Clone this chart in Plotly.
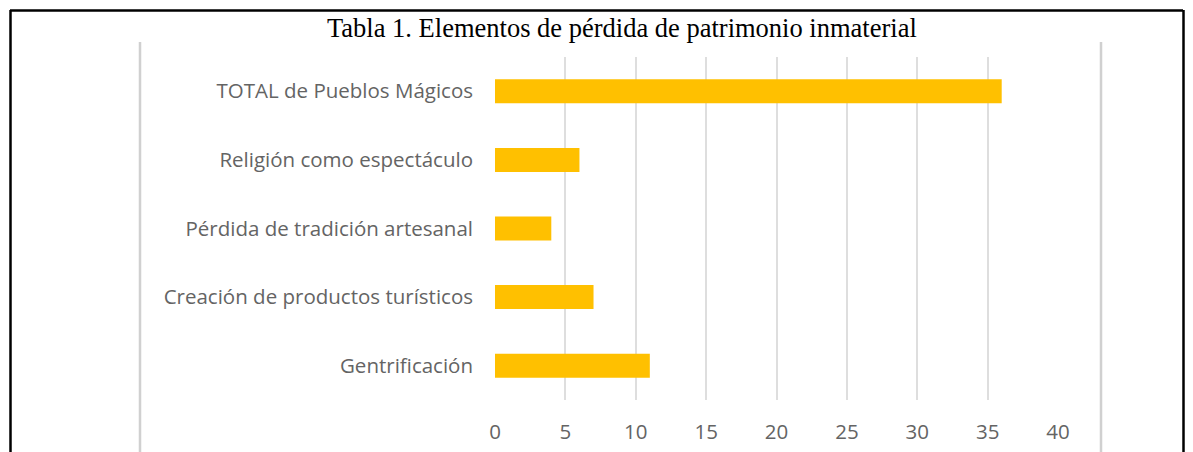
import plotly.graph_objects as go

# Chart data (top-to-bottom order)
categorias = [
    "TOTAL de Pueblos Mágicos",
    "Religión como espectáculo",
    "Pérdida de tradición artesanal",
    "Creación de productos turísticos",
    "Gentrificación",
]
valores = [36, 6, 4, 7, 11]
x_ticks = [0, 5, 10, 15, 20, 25, 30, 35, 40]

W, H = 1193, 452
label_font = dict(family="Open Sans, Lato, sans-serif", size=20.5, color="#646464")

fig = go.Figure(
    go.Bar(
        x=valores,
        y=categorias,
        orientation="h",
        marker=dict(color="#FFC000", line=dict(width=0)),
        hoverinfo="x+y",
    )
)

fig.update_layout(
    width=W,
    height=H,
    margin=dict(l=0, r=0, t=0, b=0),
    paper_bgcolor="white",
    plot_bgcolor="white",
    showlegend=False,
    bargap=0.65,
    xaxis=dict(
        domain=[495 / W, 1058 / W],
        range=[0, 40],
        tickvals=x_ticks,
        ticktext=[str(v) for v in x_ticks],
        showgrid=True,
        gridcolor="#DEDEDE",
        gridwidth=1.5,
        zeroline=False,
        showline=False,
        tickfont=label_font,
        ticklabelstandoff=17,
        automargin=False,
    ),
    yaxis=dict(
        domain=[(H - 400) / H, (H - 57) / H],
        autorange="reversed",
        showgrid=False,
        zeroline=False,
        showline=False,
        tickfont=label_font,
        ticklabelstandoff=21,
        automargin=False,
    ),
    shapes=[
        # outer black frame (top, left, right)
        dict(type="line", xref="paper", yref="paper", x0=10 / W, x1=1183 / W,
             y0=(H - 10.5) / H, y1=(H - 10.5) / H, line=dict(color="black", width=2.5)),
        dict(type="line", xref="paper", yref="paper", x0=10.5 / W, x1=10.5 / W,
             y0=0, y1=(H - 10) / H, line=dict(color="black", width=2.5)),
        dict(type="line", xref="paper", yref="paper", x0=1183.5 / W, x1=1183.5 / W,
             y0=0, y1=(H - 10) / H, line=dict(color="black", width=2.5)),
        # light grey chart-area edges
        dict(type="line", xref="paper", yref="paper", x0=140 / W, x1=140 / W,
             y0=0, y1=(H - 42) / H, line=dict(color="#D0D0D0", width=2.5)),
        dict(type="line", xref="paper", yref="paper", x0=1101 / W, x1=1101 / W,
             y0=0, y1=(H - 42) / H, line=dict(color="#D0D0D0", width=2.5)),
    ],
    annotations=[
        dict(
            text="Tabla 1. Elementos de pérdida de patrimonio inmaterial",
            xref="paper", yref="paper",
            x=622 / W, y=(H - 28) / H,
            xanchor="center", yanchor="middle",
            showarrow=False,
            font=dict(family="Liberation Serif, Times New Roman, serif", size=26.5, color="black"),
        )
    ],
)

fig.write_html("out.html")
